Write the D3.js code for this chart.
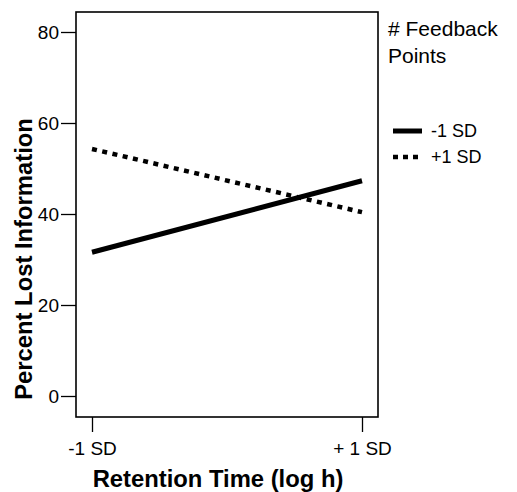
<!DOCTYPE html>
<html>
<head>
<meta charset="utf-8">
<script src="https://cdn.jsdelivr.net/npm/d3@7"></script>
<style>
  body { margin: 0; background: #fff; }
  text { font-family: "Liberation Sans", Arial, sans-serif; fill: #000; }
</style>
</head>
<body>
<div id="chart"></div>
<script>
// data
var timeLabels = ["-1 SD", "+ 1 SD"];
var feedbackLow = [31.6, 47.3];   // -1 SD feedback points
var feedbackHigh = [54.3, 40.4];  // +1 SD feedback points
var yTicks = [0, 20, 40, 60, 80];
var seriesNames = ["-1 SD", "+1 SD"];

var W = 517, H = 492;
var box = {left: 76, right: 378, top: 12, bottom: 417};

var svg = d3.select("#chart").append("svg")
    .attr("width", W)
    .attr("height", H);

var x = d3.scalePoint().domain(timeLabels).range([92, 362]);
var y = d3.scaleLinear().domain([0, 80]).range([396, 32]);

// frame
svg.append("rect")
    .attr("x", box.left)
    .attr("y", box.top)
    .attr("width", box.right - box.left)
    .attr("height", box.bottom - box.top)
    .attr("fill", "none")
    .attr("stroke", "#000")
    .attr("stroke-width", 1.6);

// y axis
var yAxis = svg.append("g")
    .attr("transform", "translate(" + box.left + ",0)")
    .call(d3.axisLeft(y).tickValues(yTicks).tickSize(15).tickPadding(2));
yAxis.select(".domain").remove();
yAxis.selectAll(".tick line").attr("stroke", "#000").attr("stroke-width", 1.3);
yAxis.selectAll(".tick text")
    .attr("font-size", "19px")
    .attr("font-family", "Liberation Sans, Arial, sans-serif");

// x axis
var xAxis = svg.append("g")
    .attr("transform", "translate(0," + box.bottom + ")")
    .call(d3.axisBottom(x).tickSize(15).tickPadding(10));
xAxis.select(".domain").remove();
xAxis.selectAll(".tick line").attr("stroke", "#000").attr("stroke-width", 1.3);
xAxis.selectAll(".tick text")
    .attr("font-size", "19px")
    .attr("font-family", "Liberation Sans, Arial, sans-serif");

// axis titles
svg.append("text")
    .attr("x", 218)
    .attr("y", 487)
    .attr("text-anchor", "middle")
    .attr("font-size", "23.8px")
    .attr("font-weight", "bold")
    .text("Retention Time (log h)");

svg.append("text")
    .attr("transform", "translate(32,259) rotate(-90)")
    .attr("text-anchor", "middle")
    .attr("font-size", "23.8px")
    .attr("font-weight", "bold")
    .text("Percent Lost Information");

// lines
var line = d3.line()
    .x(function(d, i) { return x(timeLabels[i]); })
    .y(function(d) { return y(d); });

svg.append("path")
    .datum(feedbackLow)
    .attr("d", line)
    .attr("fill", "none")
    .attr("stroke", "#000")
    .attr("stroke-width", 5);

svg.append("path")
    .datum(feedbackHigh)
    .attr("d", line)
    .attr("fill", "none")
    .attr("stroke", "#000")
    .attr("stroke-width", 4.5)
    .attr("stroke-dasharray", "5,5.5");

// legend
var legend = svg.append("g");
legend.append("text")
    .attr("x", 388)
    .attr("y", 36)
    .attr("font-size", "21px")
    .text("# Feedback");
legend.append("text")
    .attr("x", 388)
    .attr("y", 63)
    .attr("font-size", "21px")
    .text("Points");

var dashes = [null, "5,5"];
seriesNames.forEach(function(name, i) {
  var ly = 131 + i * 26;
  legend.append("line")
      .attr("x1", 393).attr("x2", 422)
      .attr("y1", ly).attr("y2", ly)
      .attr("stroke", "#000")
      .attr("stroke-width", i == 0 ? 5 : 4.5)
      .attr("stroke-dasharray", dashes[i]);
  legend.append("text")
      .attr("x", 431)
      .attr("y", ly + 6)
      .attr("font-size", "18px")
      .text(name);
});
</script>
</body>
</html>
